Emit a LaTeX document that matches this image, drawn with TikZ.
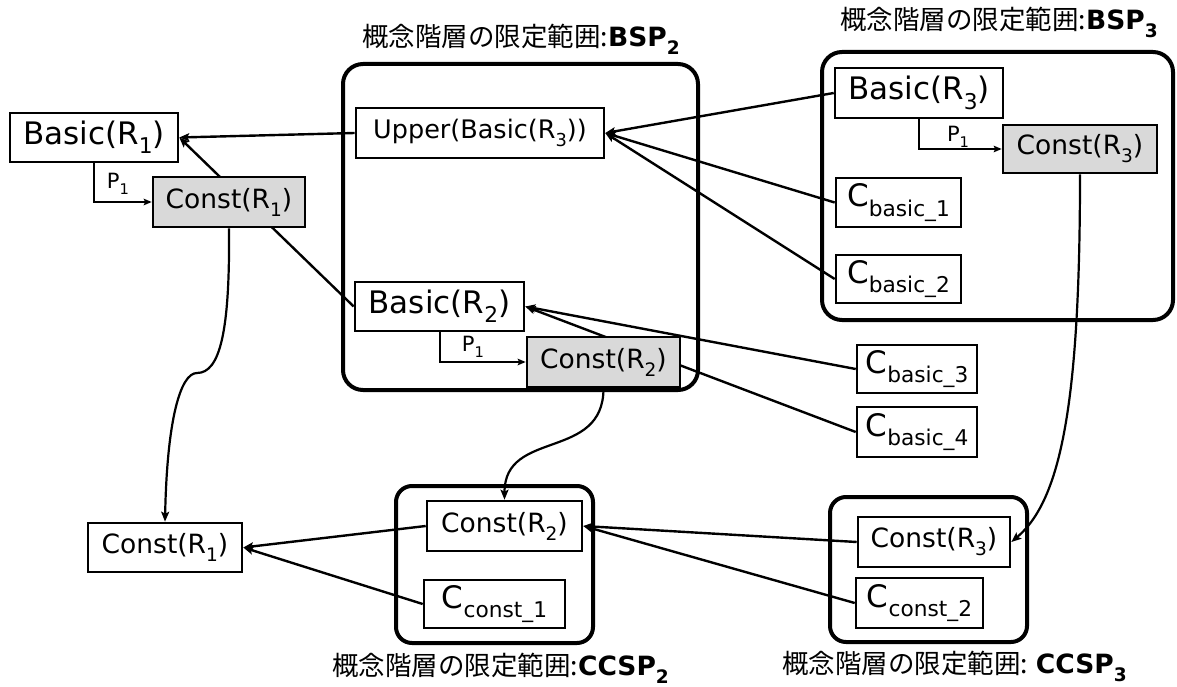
\documentclass[tikz,border=0pt]{standalone}
\usepackage{fontspec}
\usepackage{graphicx}
\setmainfont{DejaVu Sans}
\newfontfamily\jpfont{Noto Sans CJK JP}
\usetikzlibrary{arrows.meta}
\pgfdeclarelayer{back}
\pgfsetlayers{back,main}
\definecolor{boxgray}{HTML}{D9D9D9}
% lowered, reduced subscript
\newcommand\lowsub[1]{\raisebox{-0.3em}{\scalebox{0.7}{#1}}}
\begin{document}
\begin{tikzpicture}[x=1pt,y=-1pt,
  nbox/.style={draw=black, line width=2.6pt, fill=white, inner sep=0pt},
  gbox/.style={nbox, fill=boxgray},
  fbig/.style={font=\fontsize{31}{36}\selectfont},
  fmid/.style={font=\fontsize{26.5}{30}\selectfont},
  fup/.style={font=\fontsize{25.5}{29}\selectfont},
  frame/.style={draw=black, line width=4pt, rounded corners=#1, inner sep=0pt},
  link/.style={line width=2.4pt, -{Stealth[length=10pt,width=8pt,inset=2pt]}},
  plink/.style={line width=2pt, -{Stealth[length=8pt,width=6.5pt,inset=1.5pt]}},
  curvy/.style={line width=2.2pt, -{Stealth[length=10pt,width=8pt,inset=2pt]}},
  ptext/.style={font=\fontsize{21}{24}\selectfont, inner sep=0pt},
  title/.style={font=\jpfont\fontsize{26.5}{30}\selectfont, inner sep=0pt, anchor=west},
]
\useasboundingbox (0,0) rectangle (1177,687);

% scope frames
\node[frame=20pt, minimum width=355, minimum height=326] (bsp2) at (520.5,227) {};
\node[frame=20pt, minimum width=351, minimum height=268] (bsp3) at (997.5,186) {};
\node[frame=16pt, minimum width=197, minimum height=157] (ccsp2) at (494.5,564.5) {};
\node[frame=16pt, minimum width=197, minimum height=145] (ccsp3) at (928.5,569.5) {};

% scope titles
\node[title] (tbsp2) at (362,39) {概念階層の限定範囲:{\rmfamily\bfseries BSP\lowsub{2}}};
\node[title] (tbsp3) at (840,22) {概念階層の限定範囲:{\rmfamily\bfseries BSP\lowsub{3}}};
\node[title] (tccsp2) at (332,668) {概念階層の限定範囲:{\rmfamily\bfseries CCSP\lowsub{2}}};
\node[title] (tccsp3) at (782,666) {概念階層の限定範囲: {\rmfamily\bfseries CCSP\lowsub{3}}};

% basic concept nodes
\node[nbox, fbig, minimum width=168, minimum height=49] (b1) at (94,137.5) {Basic(R\lowsub{1})};
\node[gbox, fmid, minimum width=152, minimum height=50] (c1) at (229,202) {Const(R\lowsub{1})};
\node[nbox, fup, minimum width=248, minimum height=50] (up) at (480,133) {Upper(Basic(R\lowsub{3}))};
\node[nbox, fbig, minimum width=169, minimum height=49] (b2) at (439.5,306.5) {Basic(R\lowsub{2})};
\node[gbox, fmid, minimum width=153, minimum height=50] (c2) at (603.5,362) {Const(R\lowsub{2})};
\node[nbox, fbig, minimum width=168, minimum height=50] (b3) at (919,93) {Basic(R\lowsub{3})};
\node[gbox, fmid, minimum width=154, minimum height=48] (c3) at (1080,149) {Const(R\lowsub{3})};
\node[nbox, fbig, minimum width=125, minimum height=49] (cb1) at (898.5,202.5) {C\lowsub{basic\_1}};
\node[nbox, fbig, minimum width=125, minimum height=48] (cb2) at (898.5,279) {C\lowsub{basic\_2}};
\node[nbox, fbig, minimum width=120, minimum height=48] (cb3) at (917,369) {C\lowsub{basic\_3}};
\node[nbox, fbig, minimum width=120, minimum height=50] (cb4) at (917,432) {C\lowsub{basic\_4}};

% constraint nodes
\node[nbox, fmid, minimum width=154, minimum height=49] (k1) at (165,547.5) {Const(R\lowsub{1})};
\node[nbox, fmid, minimum width=155, minimum height=50] (k2) at (504.5,526) {Const(R\lowsub{2})};
\node[nbox, fbig, minimum width=141, minimum height=48] (kc1) at (494.5,604) {C\lowsub{const\_1}};
\node[nbox, fmid, minimum width=152, minimum height=50] (k3) at (934,542) {Const(R\lowsub{3})};
\node[nbox, fbig, minimum width=127, minimum height=50] (kc2) at (919.5,603) {C\lowsub{const\_2}};

% P1 labels
\node[ptext] (pa) at (118,184) {P\lowsub{1}};
\node[ptext] (pb) at (473,347) {P\lowsub{1}};
\node[ptext] (pc) at (958,137) {P\lowsub{1}};

\coordinate (m1) at (197,373);

\begin{pgfonlayer}{back}
  % P1 relations
  \draw[plink] (b1.south) |- (c1.west);
  \draw[plink] (b2.south) |- (c2.west);
  \draw[plink] (b3.south) |- (c3.west);
  % generalisation links
  \draw[link] (up.west) -- (b1.east);
  \draw[link] (b2.west) -- (b1.east);
  \draw[link] (b3.west) -- (up.east);
  \draw[link] (cb1.west) -- (up.east);
  \draw[link] (cb2.west) -- (up.east);
  \draw[link] (cb3.west) -- (b2.east);
  \draw[link] (cb4.west) -- (b2.east);
  \draw[link] (k2.west) -- (k1.east);
  \draw[link] (kc1.west) -- (k1.east);
  \draw[link] (k3.west) -- (k2.east);
  \draw[link] (kc2.west) -- (k2.east);
  % constraint mappings
  \draw[curvy] (c1.south) .. controls +(1,103) and +(23,0) .. (m1)
                .. controls +(-17,0) and +(2,-100) .. (k1.north);
  \draw[curvy] (c2.south) .. controls +(0,73) and +(0,-71) .. (k2.north);
  \draw[curvy] (c3.south) .. controls +(0,227) and +(50,-42) .. (k3.east);
\end{pgfonlayer}
\end{tikzpicture}
\end{document}
